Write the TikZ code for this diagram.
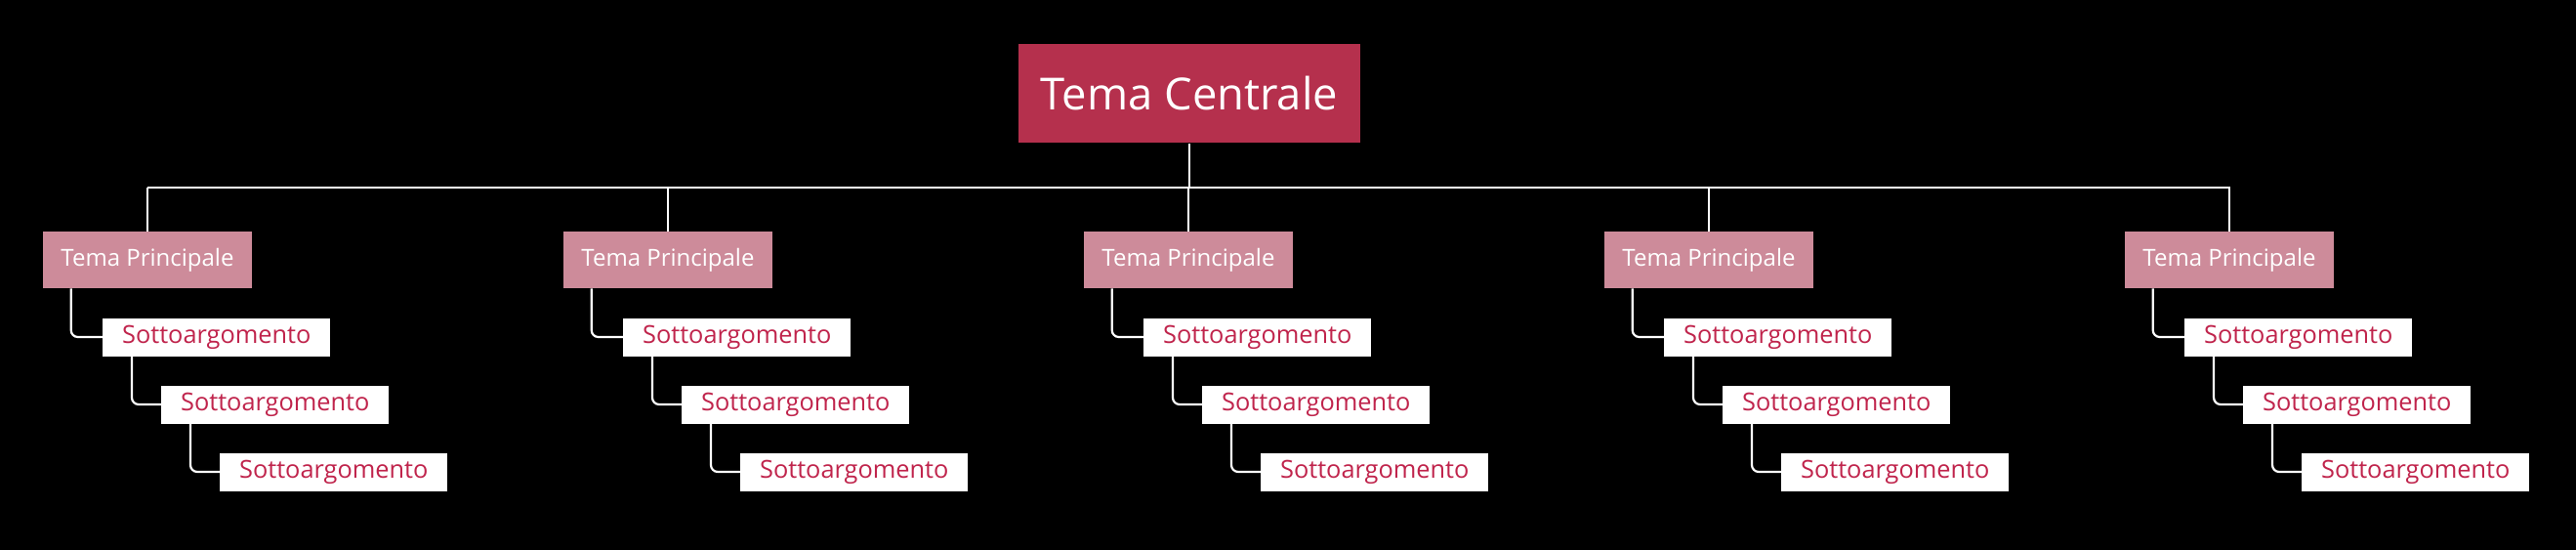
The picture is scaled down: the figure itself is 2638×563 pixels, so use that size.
\documentclass[tikz,border=0pt]{standalone}
\usepackage{fontspec}
\setmainfont{Open Sans}
\definecolor{centrale}{HTML}{B5304D}
\definecolor{principale}{HTML}{CD8B9A}
\definecolor{sottotesto}{HTML}{C0244C}
\tikzset{
  centralbox/.style={fill=centrale, text=white, minimum width=350*0.75pt, minimum height=101*0.75pt, inner sep=0pt, font=\fontsize{34}{40}\selectfont},
  mainbox/.style={fill=principale, text=white, minimum width=214*0.75pt, minimum height=58*0.75pt, inner sep=0pt, font=\fontsize{18}{22}\selectfont},
  subbox/.style={fill=white, text=sottotesto, minimum width=233*0.75pt, minimum height=39*0.75pt, inner sep=0pt, font=\fontsize{19}{23}\selectfont},
  conn/.style={draw=white, line width=2.2pt*0.75},
}
\begin{document}
\begin{tikzpicture}[x=0.75pt, y=-0.75pt]
  \fill[black] (0,0) rectangle (2638,563);
  \useasboundingbox (0,0) rectangle (2638,563);
  %
  \node[centralbox] (central) at (1218,96) {Tema Centrale};
  \coordinate (bus) at (1218,192);
  \draw[conn] (central.south) -- (bus);
  \draw[conn] (151,192) -- (2284,192);
  %
  \foreach \i in {0,...,4}{
    \pgfmathsetmacro{\cx}{151+533*\i}
    \node[mainbox] (main\i) at (\cx,266) {Tema Principale};
    \draw[conn] (\cx,192) -- (main\i.north);
    \node[subbox, anchor=west] (sub\i a) at (\cx-46,345) {Sottoargomento};
    \node[subbox, anchor=west] (sub\i b) at (\cx+14,414) {Sottoargomento};
    \node[subbox, anchor=west] (sub\i c) at (\cx+74,483) {Sottoargomento};
    \draw[conn, rounded corners=7*0.75pt] ([xshift=29*0.75pt]main\i.south west) |- (sub\i a.west);
    \draw[conn, rounded corners=7*0.75pt] ([xshift=30*0.75pt]sub\i a.south west) |- (sub\i b.west);
    \draw[conn, rounded corners=7*0.75pt] ([xshift=30*0.75pt]sub\i b.south west) |- (sub\i c.west);
  }
\end{tikzpicture}
\end{document}
